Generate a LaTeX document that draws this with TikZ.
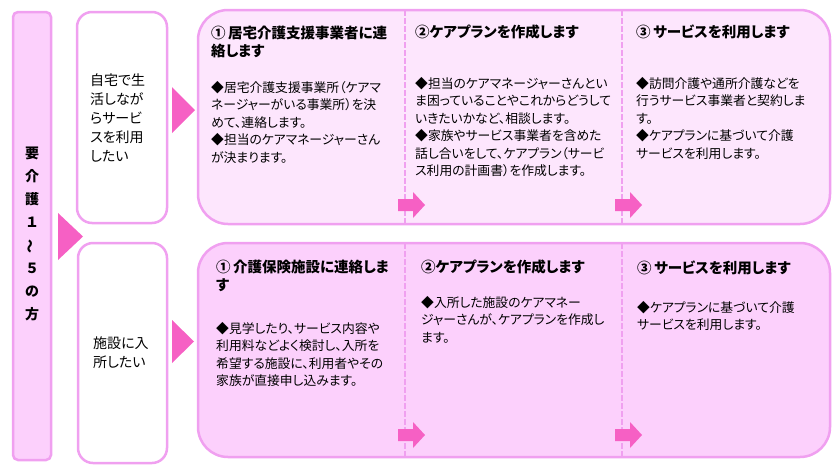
\documentclass[tikz,border=0pt]{standalone}
\usepackage{fontspec}
\setmainfont{Noto Sans CJK JP}[RawFeature=+palt]
\usepackage{tikz}
\usetikzlibrary{positioning}

\definecolor{rim}{RGB}{240,160,240}
\definecolor{paleA}{RGB}{253,230,253}
\definecolor{paleB}{RGB}{252,208,252}
\definecolor{hot}{RGB}{246,96,196}

\begin{document}
\begin{tikzpicture}[x=1pt,y=-1pt,
  colbox/.style={draw=rim,line width=2.5pt,fill=paleB,rounded corners=5pt},
  wish/.style={draw=rim,line width=2.5pt,fill=white,rounded corners=15pt},
  panel/.style={draw=rim,line width=2.5pt,rounded corners=30pt},
  sep/.style={rim,line width=2.5pt,dash pattern=on 6pt off 2pt},
  tri/.style={fill=hot},
  hd/.style={anchor=north west,inner sep=0pt,align=left,font=\fontsize{14.5}{18}\selectfont\bfseries},
  bd/.style={anchor=north west,inner sep=0pt,align=left,font=\fontsize{12.8}{17.5}\selectfont},
  wt/.style={anchor=north west,inner sep=0pt,align=left,font=\fontsize{14}{19}\selectfont}]
\useasboundingbox (0,0) rectangle (840,469);

% left column and wishes
\draw[colbox] (13,12) rectangle (51,460);
\node[inner sep=0pt,align=center,font=\fontsize{14}{23}\selectfont\bfseries] (who) at (32,234)
  {要\\介\\護\\１\\\rotatebox[origin=c]{90}{～}\\５\\の\\方};
\draw[wish] (77,12) rectangle (167,223);
\draw[wish] (78,243) rectangle (167,463);
\node[wt] (home) at (90,73.5) {自宅で生\\活しなが\\らサービ\\スを利用\\したい};
\node[wt] (fac) at (93,337) {施設に入\\所したい};

% triangles
\fill[tri] (58,213) -- (83,236.5) -- (58,260) -- cycle;
\fill[tri] (172,87) -- (195,110) -- (172,133) -- cycle;
\fill[tri] (172,320) -- (194,341.5) -- (172,363) -- cycle;

% panels
\draw[panel,fill=paleA] (198,10) rectangle (830,224);
\draw[panel,fill=paleB] (198,243) rectangle (830,457);
\foreach \x in {405,622} {
  \draw[sep] (\x,10) -- (\x,224);
  \draw[sep] (\x,243) -- (\x,457);
}
\foreach \x/\y in {398/205,615/205,398/435,615/435}
  \fill[hot] (\x,\y-6) -- ++(15,0) -- ++(0,-7) -- ++(12,13) -- ++(-12,13) -- ++(0,-7) -- ++(-15,0) -- cycle;

% upper steps
\node[hd] (t11) at (211,26) {①\,居宅介護支援事業者に連\\絡します};
\node[bd] (b11) at (211,81) {◆居宅介護支援事業所（ケアマ\\ネージャーがいる事業所）を決\\めて、連絡します。\\◆担当のケアマネージャーさん\\が決まります。};
\node[hd] (t12) at (415,25) {②ケアプランを作成します};
\node[bd] (b12) at (415,77) {◆担当のケアマネージャーさんとい\\ま困っていることやこれからどうして\\いきたいかなど、相談します。\\◆家族やサービス事業者を含めた\\話し合いをして、ケアプラン（サービ\\ス利用の計画書）を作成します。};
\node[hd] (t13) at (636,25) {③\,サービスを利用します};
\node[bd] (b13) at (636,77) {◆訪問介護や通所介護などを\\行うサービス事業者と契約しま\\す。\\◆ケアプランに基づいて介護\\サービスを利用します。};

% lower steps
\node[hd] (t21) at (216,260) {①\,介護保険施設に連絡しま\\す};
\node[bd] (b21) at (216,322) {◆見学したり、サービス内容や\\利用料などよく検討し、入所を\\希望する施設に、利用者やその\\家族が直接申し込みます。};
\node[hd] (t22) at (421,260) {②ケアプランを作成します};
\node[bd] (b22) at (421,296) {◆入所した施設のケアマネー\\ジャーさんが、ケアプランを作成し\\ます。};
\node[hd] (t23) at (637,261) {③\,サービスを利用します};
\node[bd] (b23) at (637,301) {◆ケアプランに基づいて介護\\サービスを利用します。};
\end{tikzpicture}
\end{document}
